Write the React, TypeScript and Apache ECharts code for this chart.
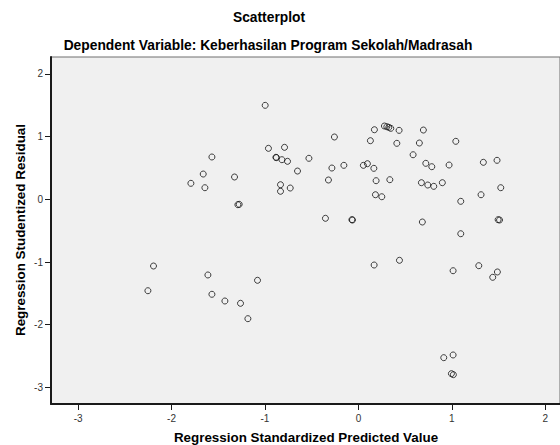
import React, { useEffect, useRef } from "react";
import * as echarts from "echarts";

const predicted: number[] = [
  -1.568, -1.661, -1.793, -1.643, -1.326, -1.29, -1.276, -0.998, -0.963, -0.791,
  -0.883, -0.878, -0.819, -0.759, -0.53, -0.652, -0.834, -0.834, -0.73, -0.257,
  -0.284, -0.156, -0.321, -0.353, -0.07, -0.064, 0.171, 0.128, 0.053, 0.096,
  0.165, 0.189, 0.182, 0.278, 0.304, 0.325, 0.346, 0.435, 0.695, 0.411,
  0.652, 1.042, 0.585, 0.721, 0.785, 0.97, 1.337, 1.483, 0.336, 0.674,
  0.742, 0.806, 0.898, 0.25, 1.095, 1.312, 1.523, 0.684, 1.095, 1.495,
  1.51, -2.193, -2.253, -1.611, -1.08, -1.568, -1.429, -1.262, -1.183, 0.168,
  0.439, 1.013, 1.288, 1.437, 1.487, 0.913, 1.013, 0.995, 1.016,
];

const residual: number[] = [
  0.675, 0.403, 0.255, 0.185, 0.356, -0.086, -0.08, 1.499, 0.813, 0.829,
  0.67, 0.665, 0.632, 0.606, 0.654, 0.451, 0.233, 0.128, 0.18, 0.994,
  0.499, 0.542, 0.308, -0.303, -0.325, -0.33, 1.11, 0.935, 0.542, 0.568,
  0.494, 0.297, 0.073, 1.169, 1.158, 1.148, 1.132, 1.1, 1.105, 0.893,
  0.898, 0.925, 0.711, 0.574, 0.52, 0.547, 0.59, 0.622, 0.313, 0.265,
  0.228, 0.207, 0.265, 0.041, -0.032, 0.073, 0.185, -0.362, -0.549, -0.325,
  -0.33, -1.064, -1.458, -1.207, -1.292, -1.515, -1.622, -1.659, -1.904, -1.048,
  -0.973, -1.139, -1.059, -1.244, -1.159, -2.526, -2.483, -2.781, -2.797,
];

const xTicks: number[] = [-3, -2, -1, 0, 1, 2];
const yTicks: number[] = [-3, -2, -1, 0, 1, 2];

const chartTitle = "Scatterplot";
const chartSubtitle = "Dependent Variable: Keberhasilan Program Sekolah/Madrasah";
const xName = "Regression Standardized Predicted Value";
const yName = "Regression Studentized Residual";

const FONT = 'Arial, "Liberation Sans", sans-serif';

export default function App() {
  const ref = useRef<HTMLDivElement>(null);

  useEffect(() => {
    if (!ref.current) return;
    const chart = echarts.init(ref.current, undefined, { renderer: "svg" });
    const data = predicted.map((x, i) => [x, residual[i]]);
    chart.setOption({
      animation: false,
      backgroundColor: "#ffffff",
      grid: {
        left: 51,
        top: 57,
        right: 0,
        bottom: 41,
        show: true,
        backgroundColor: "#f0f0f0",
        borderColor: "#6e6e6e",
        borderWidth: 1,
      },
      xAxis: {
        type: "value",
        min: -3.29,
        max: 2.157,
        splitLine: { show: false },
        axisLine: { show: true, onZero: false, lineStyle: { color: "#1a1a1a", width: 2 } },
        axisTick: {
          show: true,
          length: 6,
          customValues: xTicks,
          lineStyle: { color: "#1a1a1a", width: 1 },
        },
        axisLabel: {
          customValues: xTicks,
          margin: 9,
          fontSize: 10,
          color: "#333333",
          fontFamily: FONT,
        },
      },
      yAxis: {
        type: "value",
        min: -3.265,
        max: 2.27,
        splitLine: { show: false },
        axisLine: { show: true, onZero: false, lineStyle: { color: "#1a1a1a", width: 2 } },
        axisTick: {
          show: true,
          length: 6,
          customValues: yTicks,
          lineStyle: { color: "#1a1a1a", width: 1 },
        },
        axisLabel: {
          customValues: yTicks,
          margin: 8,
          fontSize: 10,
          color: "#333333",
          fontFamily: FONT,
        },
      },
      graphic: [
        {
          type: "text",
          x: 269,
          y: 17,
          style: {
            text: chartTitle,
            font: `bold 13.8px ${FONT}`,
            fill: "#000",
            textAlign: "center",
            textVerticalAlign: "middle",
          },
        },
        {
          type: "text",
          x: 268,
          y: 45,
          style: {
            text: chartSubtitle,
            font: `bold 13.8px ${FONT}`,
            fill: "#000",
            textAlign: "center",
            textVerticalAlign: "middle",
          },
        },
        {
          type: "text",
          x: 306,
          y: 437,
          style: {
            text: xName,
            font: `bold 13.4px ${FONT}`,
            fill: "#000",
            textAlign: "center",
            textVerticalAlign: "middle",
          },
        },
        {
          type: "text",
          x: 20,
          y: 230,
          rotation: Math.PI / 2,
          style: {
            text: yName,
            font: `bold 13.4px ${FONT}`,
            fill: "#000",
            textAlign: "center",
            textVerticalAlign: "middle",
          },
        },
      ],
      series: [
        {
          type: "scatter",
          data,
          symbol: "circle",
          symbolSize: 6,
          itemStyle: {
            color: "rgba(0,0,0,0)",
            borderColor: "#111111",
            borderWidth: 1,
          },
          emphasis: { disabled: true },
        },
      ],
    });
    return () => chart.dispose();
  }, []);

  return (
    <div
      ref={ref}
      style={{ position: "fixed", left: 0, top: 0, width: 560, height: 445 }}
    />
  );
}
